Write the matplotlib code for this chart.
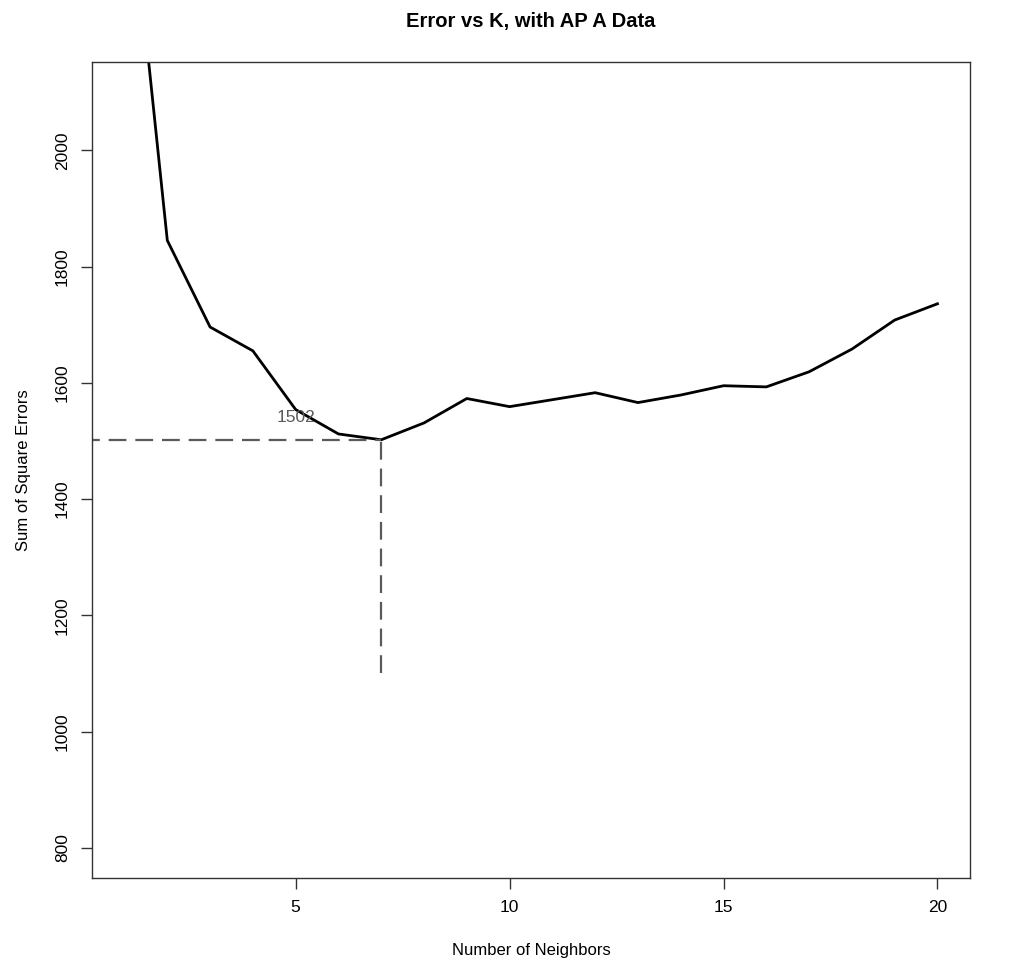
import matplotlib
matplotlib.use("Agg")
import matplotlib.pyplot as plt

plt.rcParams['font.family'] = ['Liberation Sans', 'DejaVu Sans']

k_values = list(range(1, 21))
sse_values = [2550, 1845, 1696, 1655, 1554, 1512, 1502, 1531, 1573, 1559,
              1571, 1583, 1566, 1579, 1595, 1593, 1619, 1658, 1708, 1736]
best_k = 7
best_sse = 1502
x_ticks = [5, 10, 15, 20]
y_ticks = [800, 1000, 1200, 1400, 1600, 1800, 2000]

fig = plt.figure(figsize=(10.24, 9.66), dpi=100)
ax = fig.add_axes([92/1024, 1-878/966, (970-92)/1024, (878-62)/966])

ax.plot(k_values, sse_values, color='black', lw=2)
ax.plot([0, best_k], [best_sse, best_sse], color='#5a5a5a', lw=1.6, ls=(0, (8, 4)))
ax.plot([best_k, best_k], [1100, best_sse], color='#5a5a5a', lw=1.6, ls=(0, (8, 4)))
ax.text(5, 1540, str(best_sse), color='#5a5a5a', fontsize=12.5, ha='center', va='center')

ax.set_xlim(0.24, 20.76)
ax.set_ylim(748, 2152)
ax.set_xticks(x_ticks)
ax.set_yticks(y_ticks)
ax.set_yticklabels([str(v) for v in y_ticks], rotation=90, va='center')
ax.tick_params(length=8, width=1, labelsize=12.5, pad=8, color='#333333')
for s in ax.spines.values():
    s.set_color('#333333')
    s.set_linewidth(1)

ax.set_xlabel('Number of Neighbors', fontsize=12, labelpad=20)
ax.set_ylabel('Sum of Square Errors', fontsize=12, labelpad=17)
fig.text(531/1024, 1-21/966, 'Error vs K, with AP A Data', fontsize=14.5, fontweight='bold',
         ha='center', va='center')

fig.savefig('out.png', dpi=100)
